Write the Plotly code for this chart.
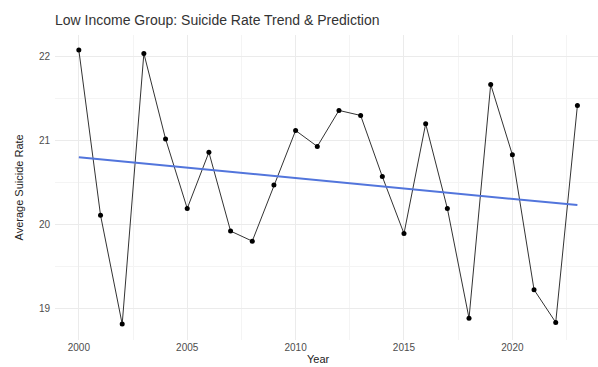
import plotly.graph_objects as go

# Annual average suicide rate, low income group
years = list(range(2000, 2024))
rates = [22.08, 20.11, 18.81, 22.04, 21.02, 20.19, 20.86, 19.92, 19.80, 20.47,
         21.12, 20.93, 21.36, 21.30, 20.57, 19.89, 21.20, 20.19, 18.88, 21.67,
         20.83, 19.22, 18.83, 21.42]

# Fitted linear trend (endpoints of the prediction line)
trend_years = [2000, 2023]
trend_rates = [20.80, 20.23]

x_ticks = [2000, 2005, 2010, 2015, 2020]
y_ticks = [19, 20, 21, 22]

fig = go.Figure()
fig.add_trace(go.Scatter(
    x=years, y=rates, mode="lines+markers",
    line=dict(color="#333333", width=1),
    marker=dict(color="black", size=5),
    showlegend=False, hoverinfo="x+y",
))
fig.add_trace(go.Scatter(
    x=trend_years, y=trend_rates, mode="lines",
    line=dict(color="#5275DC", width=2),
    showlegend=False, hoverinfo="skip",
))

font = "Liberation Sans, Arial, sans-serif"
fig.update_layout(
    width=598, height=367,
    margin=dict(l=55, r=0, t=35, b=27),
    paper_bgcolor="white", plot_bgcolor="white",
    font=dict(family=font, color="#4D4D4D"),
    title=dict(text="Low Income Group: Suicide Rate Trend & Prediction",
               x=55 / 598, xanchor="left", y=1 - 20 / 367, yanchor="middle",
               font=dict(size=14, color="#333333")),
    xaxis=dict(
        range=[1998.9, 2023.95], tickvals=x_ticks, ticktext=[str(t) for t in x_ticks],
        showgrid=True, gridcolor="#EBEBEB", gridwidth=1,
        minor=dict(dtick=2.5, tick0=2000, showgrid=True, gridcolor="#F4F4F4", gridwidth=0.6),
        zeroline=False, showline=False, ticks="",
        tickfont=dict(size=10, color="#4D4D4D"),
    ),
    yaxis=dict(
        range=[18.62, 22.26], tickvals=y_ticks, ticktext=[str(t) for t in y_ticks],
        showgrid=True, gridcolor="#EBEBEB", gridwidth=1,
        minor=dict(dtick=0.5, tick0=19, showgrid=True, gridcolor="#F4F4F4", gridwidth=0.6),
        zeroline=False, showline=False, ticks="",
        tickfont=dict(size=10, color="#4D4D4D"), ticklabelstandoff=4,
    ),
    annotations=[
        dict(text="Year", xref="paper", yref="paper", x=(318 - 55) / 543, y=-19 / 305,
             xanchor="center", yanchor="middle", showarrow=False,
             font=dict(size=11, color="#222222")),
        dict(text="Average Suicide Rate", xref="paper", yref="paper",
             x=-37 / 543, y=0.5, xanchor="center", yanchor="middle", textangle=-90,
             showarrow=False, font=dict(size=11, color="#222222")),
    ],
)

fig.write_html("out.html")
